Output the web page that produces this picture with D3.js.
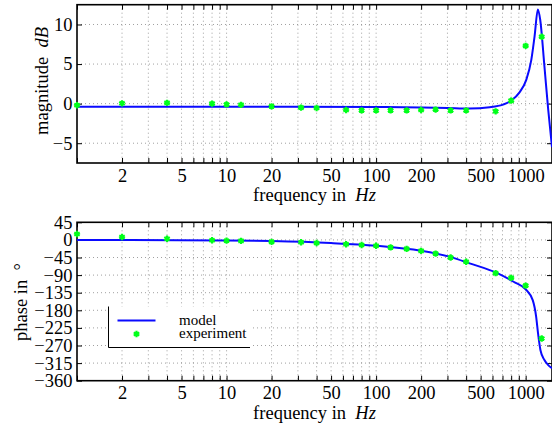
<!DOCTYPE html>
<html><head><meta charset="utf-8">
<script src="https://cdn.jsdelivr.net/npm/d3@7"></script>
<style>
body{margin:0;background:#fff}
svg text{font-family:"Liberation Serif","Times New Roman","Nimbus Roman","DejaVu Serif",Times,serif;fill:#000}
</style>
</head><body><svg id="c" width="552" height="428"></svg>
<script>
// ---- data ----
const expFreq  = [1, 2, 4, 8, 10, 12.5, 20, 31.5, 40, 63, 80, 100, 125, 160, 200, 250, 315, 400, 630, 800, 1000, 1280];
const expMag   = [-0.2, 0.04, 0.1, 0.0, -0.1, -0.15, -0.35, -0.5, -0.55, -0.8, -0.85, -0.85, -0.85, -0.85, -0.8, -0.75, -0.85, -0.85, -0.97, 0.38, 7.3, 8.45];
const expPhase = [15, 7.5, 3, -1, -2, -2.5, -5, -6, -8, -11, -13, -15, -19, -23, -28, -35, -45, -56, -85, -97, -117, -252];

const modelMagFreq = [1, 10, 100, 200, 300, 422, 574, 704, 805, 910, 1009, 1090, 1147, 1207, 1251, 1335, 1415, 1500];
const modelMag     = [-0.38, -0.38, -0.42, -0.48, -0.55, -0.62, -0.46, -0.13, 0.42, 1.43, 3.0, 5.5, 8.5, 11.9, 10.6, 4.7, -0.75, -5.5];
const modelPhFreq  = [1, 10, 20, 50, 100, 200, 315, 422, 646, 830, 1009, 1115, 1175, 1210, 1256, 1335, 1415, 1500];
const modelPhase   = [0, -1.5, -3, -8, -15, -28, -44, -60, -85, -107, -128, -154, -196, -239, -282, -307, -320, -328];

const freqLabels = [2, 5, 10, 20, 50, 100, 200, 500, 1000];
const magTicks   = [-5, 0, 5, 10];
const phaseTicks = [45, 0, -45, -90, -135, -180, -225, -270, -315, -360];
const legendLabels = ["model", "experiment"];

// ---- layout ----
const svg = d3.select("#c");
const FONT = '"Liberation Serif","Times New Roman","Nimbus Roman","DejaVu Serif",Times,serif';
const L = 77, R = 552;
const FS = 18.5;
const x = d3.scaleLog().domain([1, 1500]).range([L, R]);
const xTicks = [];
for (let d = 1; d <= 1000; d *= 10) for (let m = 1; m <= 9; m++) if (m * d <= 1500) xTicks.push(m * d);
const fmtX = d => freqLabels.includes(d) ? String(d) : "";
const minus = s => String(s).replace("-", "\u2212");

function panel(top, bottom, yDomain, yTicks, fx, fy, ex, ey, clipId) {
  const y = d3.scaleLinear().domain(yDomain).range([bottom, top]);
  const g = svg.append("g");
  g.append("clipPath").attr("id", clipId).append("rect")
    .attr("x", L).attr("y", top).attr("width", R - L).attr("height", bottom - top);
  // grid
  const grid = g.append("g").attr("stroke", "#888").attr("stroke-width", 0.8).attr("stroke-dasharray", "1,3");
  grid.selectAll(".gx").data(xTicks.filter(t => t > 1)).join("line")
    .attr("x1", d => x(d)).attr("x2", d => x(d)).attr("y1", top).attr("y2", bottom);
  grid.selectAll(".gy").data(yTicks.filter(t => y(t) > top + 1 && y(t) < bottom - 1)).join("line")
    .attr("x1", L).attr("x2", R).attr("y1", d => y(d)).attr("y2", d => y(d));
  // axes
  const ab = g.append("g").attr("transform", `translate(0,${bottom})`)
    .call(d3.axisBottom(x).tickValues(xTicks).tickFormat(fmtX).tickSize(-5).tickPadding(5.5));
  const at = g.append("g").attr("transform", `translate(0,${top})`)
    .call(d3.axisTop(x).tickValues(xTicks).tickFormat("").tickSize(-5));
  const al = g.append("g").attr("transform", `translate(${L},0)`)
    .call(d3.axisLeft(y).tickValues(yTicks).tickFormat(minus).tickSize(-5).tickPadding(4.5));
  const ar = g.append("g").attr("transform", `translate(${R},0)`)
    .call(d3.axisRight(y).tickValues(yTicks).tickFormat("").tickSize(-5));
  [ab, at, al, ar].forEach(a => {
    a.attr("font-family", FONT).attr("font-size", FS);
    a.select(".domain").remove();
    a.selectAll("line").attr("stroke", "#000").attr("stroke-width", 1);
    a.selectAll("text").attr("font-size", FS).attr("font-family", FONT);
  });
  g.append("rect").attr("x", L).attr("y", top).attr("width", R - L).attr("height", bottom - top)
    .attr("fill", "none").attr("stroke", "#000").attr("stroke-width", 1.6);
  // model line
  const line = d3.line().x((d, i) => x(fx[i])).y(d => y(d)).curve(d3.curveMonotoneX);
  g.append("path").attr("clip-path", `url(#${clipId})`).attr("d", line(fy))
    .attr("fill", "none").attr("stroke", "#0a0aff").attr("stroke-width", 2);
  // experiment points
  const sym = d3.symbol().type(d3.symbolAsterisk).size(28);
  g.append("g").selectAll("path").data(ey).join("path")
    .attr("transform", (d, i) => `translate(${x(ex[i])},${y(d)})`)
    .attr("d", sym).attr("fill", "none").attr("stroke", "#00ff1a").attr("stroke-width", 2.2);
  g.append("g").selectAll("circle").data(ey).join("circle")
    .attr("cx", (d, i) => x(ex[i])).attr("cy", d => y(d)).attr("r", 2.3).attr("fill", "#00ff1a");
  // x label
  const xl = g.append("text").attr("x", (L + R) / 2).attr("y", bottom + 38)
    .attr("text-anchor", "middle").attr("font-size", FS).attr("font-family", FONT);
  xl.append("tspan").text("frequency in\u00a0\u00a0");
  xl.append("tspan").attr("font-style", "italic").text("Hz");
  return y;
}

panel(4.7, 163, [-7.5, 12.5], magTicks, modelMagFreq, modelMag, expFreq, expMag, "clipA");
panel(222.3, 380.7, [-360, 45], phaseTicks, modelPhFreq, modelPhase, expFreq, expPhase, "clipB");

// y labels
const yl1 = svg.append("text").attr("transform", "translate(48,81) rotate(-90)")
  .attr("text-anchor", "middle").attr("font-size", FS).attr("font-family", FONT);
yl1.append("tspan").text("magnitude\u00a0\u00a0");
yl1.append("tspan").attr("font-style", "italic").text("dB");
svg.append("text").attr("transform", "translate(27,302) rotate(-90)")
  .attr("text-anchor", "middle").attr("font-size", FS).attr("font-family", FONT).text("phase in\u00a0\u00a0\u00b0");

// legend
const lg = svg.append("g");
lg.append("rect").attr("x", 108.5).attr("y", 306.5).attr("width", 141.5).attr("height", 41).attr("fill", "#fff");
lg.append("path").attr("d", "M108.5,306.5V347.5H250").attr("fill", "none").attr("stroke", "#000").attr("stroke-width", 1);
lg.append("line").attr("x1", 117.5).attr("x2", 155.5).attr("y1", 320.5).attr("y2", 320.5)
  .attr("stroke", "#0a0aff").attr("stroke-width", 2);
lg.append("path").attr("transform", "translate(136.5,334)").attr("d", d3.symbol().type(d3.symbolAsterisk).size(28))
  .attr("fill", "none").attr("stroke", "#00ff1a").attr("stroke-width", 2.2);
lg.append("circle").attr("cx", 136.5).attr("cy", 334).attr("r", 2.3).attr("fill", "#00ff1a");
lg.selectAll(".lt").data(legendLabels).join("text")
  .attr("x", 179).attr("y", (d, i) => 325 + i * 13).attr("font-size", 15).attr("font-family", FONT).text(d => d);
</script></body></html>
